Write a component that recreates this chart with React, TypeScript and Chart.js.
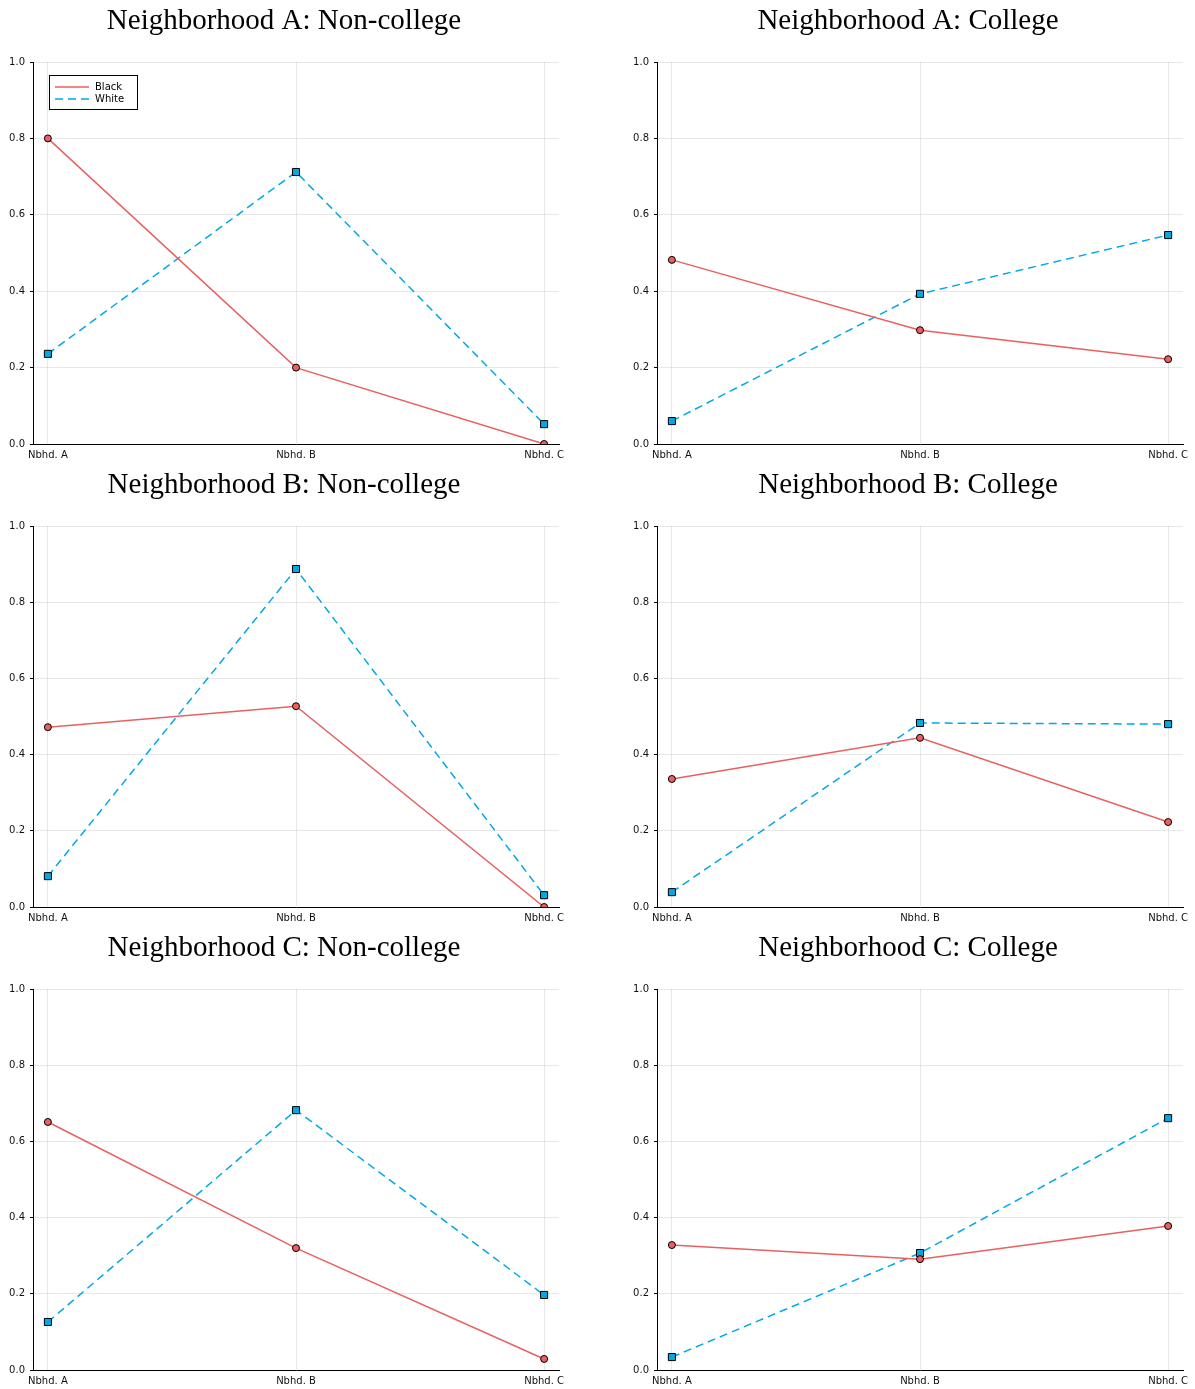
import React, { useEffect, useRef } from "react";
import { Chart, registerables } from "chart.js";

Chart.register(...registerables);

const categories = ["Nbhd. A", "Nbhd. B", "Nbhd. C"];
const yTicks = [0, 0.2, 0.4, 0.6, 0.8, 1.0];

const titles = [
  "Neighborhood A: Non-college",
  "Neighborhood A: College",
  "Neighborhood B: Non-college",
  "Neighborhood B: College",
  "Neighborhood C: Non-college",
  "Neighborhood C: College",
];

const blackA_NC = [0.8, 0.2, 0.0];
const whiteA_NC = [0.236, 0.712, 0.052];
const blackA_C = [0.482, 0.298, 0.222];
const whiteA_C = [0.06, 0.393, 0.547];
const blackB_NC = [0.472, 0.527, 0.0];
const whiteB_NC = [0.081, 0.887, 0.031];
const blackB_C = [0.336, 0.444, 0.223];
const whiteB_C = [0.039, 0.483, 0.48];
const blackC_NC = [0.651, 0.32, 0.029];
const whiteC_NC = [0.126, 0.682, 0.197];
const blackC_C = [0.328, 0.291, 0.378];
const whiteC_C = [0.034, 0.307, 0.661];

const blackSeries = [blackA_NC, blackA_C, blackB_NC, blackB_C, blackC_NC, blackC_C];
const whiteSeries = [whiteA_NC, whiteA_C, whiteB_NC, whiteB_C, whiteC_NC, whiteC_C];
const seriesNames = ["Black", "White"];

const RED = "#e8605f";
const CYAN = "#00a9e3";
const DASH = [8, 5];
const TICK_FONT = { family: "DejaVu Sans", size: 10 };

function Panel(props: { idx: number; left: number; top: number; width: number; height: number; yAxisW: number; rightPad: number; topPad: number }) {
  const ref = useRef<HTMLCanvasElement | null>(null);
  const { idx, width, height, yAxisW, rightPad, topPad } = props;

  useEffect(() => {
    if (!ref.current) return;
    const showLegend = idx === 0;
    const titlePlugin = {
      id: "customTitle",
      afterDraw(chart: any) {
        const ctx = chart.ctx;
        const ca = chart.chartArea;
        ctx.save();
        ctx.font = '29px "Liberation Serif"';
        ctx.fillStyle = "#000";
        ctx.textAlign = "center";
        ctx.textBaseline = "middle";
        ctx.fillText(titles[idx], (ca.left + ca.right) / 2 - 12, ca.top - 41);
        if (showLegend) {
          const bx = ca.left + 16;
          const by = ca.top + 13;
          const bw = 88;
          const bh = 34;
          ctx.fillStyle = "#fff";
          ctx.fillRect(bx, by, bw, bh);
          ctx.strokeStyle = "#000";
          ctx.lineWidth = 1;
          ctx.strokeRect(bx + 0.5, by + 0.5, bw, bh);
          const items = [
            { name: seriesNames[0], color: RED, dash: [] as number[] },
            { name: seriesNames[1], color: CYAN, dash: DASH },
          ];
          items.forEach((it, i) => {
            const yy = by + 12 + i * 12;
            ctx.strokeStyle = it.color;
            ctx.lineWidth = 1.5;
            ctx.setLineDash(it.dash);
            ctx.beginPath();
            ctx.moveTo(bx + 6, yy);
            ctx.lineTo(bx + 40, yy);
            ctx.stroke();
            ctx.setLineDash([]);
            ctx.fillStyle = "#000";
            ctx.font = '10px "DejaVu Sans"';
            ctx.textAlign = "left";
            ctx.textBaseline = "middle";
            ctx.fillText(it.name, bx + 46, yy);
          });
        }
        ctx.restore();
      },
    };

    const chart = new Chart(ref.current, {
      type: "line",
      data: {
        datasets: [
          {
            label: seriesNames[0],
            data: blackSeries[idx].map((v, i) => ({ x: i, y: v })),
            borderColor: RED,
            backgroundColor: RED,
            borderWidth: 1.5,
            pointStyle: "circle",
            pointRadius: 3.5,
            pointBackgroundColor: RED,
            pointBorderColor: "#000",
            pointBorderWidth: 1,
            tension: 0,
          },
          {
            label: seriesNames[1],
            data: whiteSeries[idx].map((v, i) => ({ x: i, y: v })),
            borderColor: CYAN,
            backgroundColor: CYAN,
            borderWidth: 1.5,
            borderDash: DASH,
            pointStyle: "rect",
            pointRadius: 5,
            pointBackgroundColor: CYAN,
            pointBorderColor: "#000",
            pointBorderWidth: 1,
            tension: 0,
          },
        ],
      },
      options: {
        responsive: false,
        animation: false,
        devicePixelRatio: 1,
        layout: { padding: { left: 0, right: rightPad, top: topPad, bottom: 0 } },
        plugins: {
          legend: { display: false },
          title: { display: false },
          tooltip: { enabled: false },
        },
        scales: {
          x: {
            type: "linear",
            min: -0.06,
            max: 2.06,
            afterBuildTicks: (scale: any) => {
              scale.ticks = categories.map((_, i) => ({ value: i }));
            },
            afterFit: (scale: any) => {
              scale.height = 19;
            },
            ticks: {
              font: TICK_FONT,
              color: "#111",
              padding: 5,
              maxRotation: 0,
              autoSkip: false,
              callback: (v: any) => categories[Math.round(Number(v))] ?? "",
            },
            grid: { color: "rgba(0,0,0,0.09)", drawTicks: false },
            border: { color: "#000", width: 1 },
          },
          y: {
            min: 0,
            max: 1,
            afterBuildTicks: (scale: any) => {
              scale.ticks = yTicks.map((v) => ({ value: v }));
            },
            afterFit: (scale: any) => {
              scale.width = yAxisW;
            },
            ticks: {
              font: TICK_FONT,
              color: "#111",
              padding: 5,
              callback: (v: any) => Number(v).toFixed(1),
            },
            grid: { color: "rgba(0,0,0,0.09)", tickColor: "#000", tickLength: 3 },
            border: { color: "#000", width: 1 },
          },
        },
      },
      plugins: [titlePlugin],
    } as any);
    return () => chart.destroy();
  }, [idx, width, height, yAxisW, rightPad, topPad]);

  return (
    <canvas
      ref={ref}
      width={width}
      height={height}
      style={{ position: "absolute", left: props.left, top: props.top, width, height }}
    />
  );
}

export default function App() {
  const panels = [];
  for (let r = 0; r < 3; r++) {
    for (let c = 0; c < 2; c++) {
      const idx = r * 2 + c;
      const top = r === 0 ? 0 : r === 1 ? 463 : 926;
      const topPad = r === 0 ? 62 : 63;
      const left = c === 0 ? 0 : 597;
      const width = c === 0 ? 597 : 598;
      const yAxisW = c === 0 ? 33 : 60;
      const rightPad = c === 0 ? 38 : 12;
      const h = 463;
      panels.push(
        <Panel key={idx} idx={idx} left={left} top={top} width={width} height={h} yAxisW={yAxisW} rightPad={rightPad} topPad={topPad} />
      );
    }
  }
  return (
    <div style={{ position: "absolute", left: 0, top: 0, width: 1195, height: 1389, background: "#fff" }}>
      {panels}
    </div>
  );
}
